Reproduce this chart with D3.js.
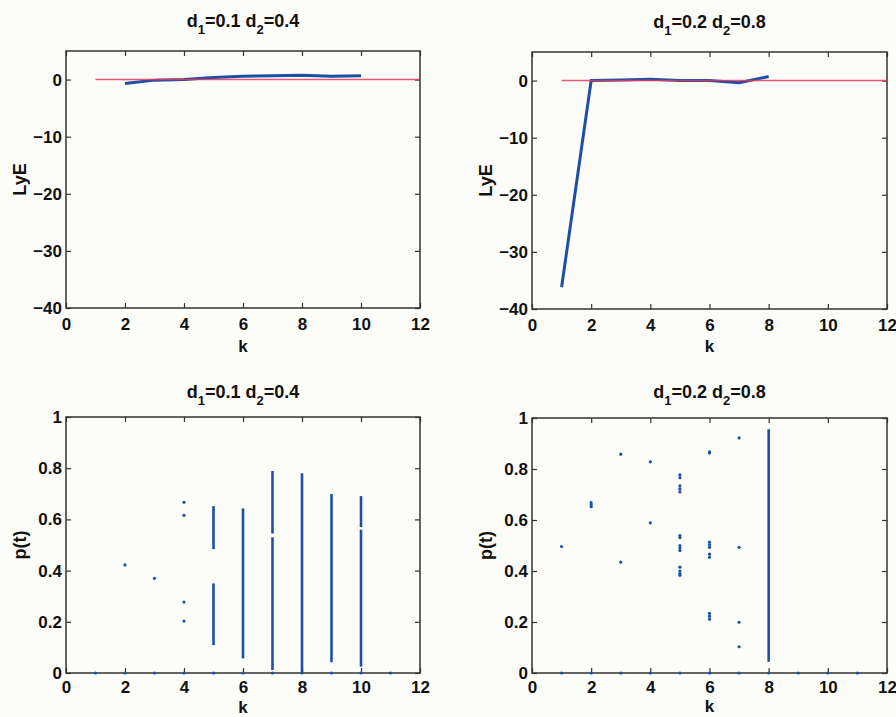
<!DOCTYPE html>
<html lang="en">
<head>
  <meta charset="UTF-8">
  <title>LyE and p(t)</title>
  <script src="https://cdn.jsdelivr.net/npm/d3@7"></script>
  <style>
    body { margin: 0; background: #fcfcf9; }
    text { font-family: "Liberation Sans", Arial, sans-serif; font-weight: bold; fill: #111; }
  </style>
</head>
<body>
  <script>
    // ---- data ----
    const xTicks = [0, 2, 4, 6, 8, 10, 12];
    const lyeTicks = [-40, -30, -20, -10, 0];
    const pTicks = [0, 0.2, 0.4, 0.6, 0.8, 1];

    // top row: Lyapunov exponent per k
    const lyeK_A = [2, 3, 4, 5, 6, 7, 8, 9, 10];
    const lyeV_A = [-0.7, -0.1, 0, 0.35, 0.6, 0.65, 0.75, 0.6, 0.65];
    const lyeK_B = [1, 2, 3, 4, 5, 6, 7, 8];
    const lyeV_B = [-36.2, 0, 0.1, 0.25, 0, 0, -0.4, 0.7];
    const zeroK = [1, 12];

    // bottom row: isolated points [k, p]
    const ptsA = [
      [1, 0], [2, 0], [3, 0], [4, 0], [5, 0], [6, 0], [7, 0], [8, 0], [9, 0], [10, 0], [11, 0],
      [2, 0.422], [3, 0.37],
      [4, 0.667], [4, 0.616], [4, 0.277], [4, 0.203]
    ];
    // dense columns of points, drawn as [k, pLow, pHigh]
    const colsA = [
      [5, 0.484, 0.652], [5, 0.109, 0.35],
      [6, 0.057, 0.643],
      [7, 0.012, 0.53], [7, 0.545, 0.789],
      [8, 0.0, 0.78],
      [9, 0.042, 0.699],
      [10, 0.025, 0.56], [10, 0.57, 0.691]
    ];
    const ptsB = [
      [1, 0], [2, 0], [3, 0], [4, 0], [5, 0], [6, 0], [7, 0], [8, 0], [9, 0], [10, 0], [11, 0],
      [1, 0.496],
      [2, 0.668], [2, 0.66], [2, 0.652],
      [3, 0.858], [3, 0.435],
      [4, 0.828], [4, 0.589],
      [5, 0.777], [5, 0.766], [5, 0.734], [5, 0.722], [5, 0.71],
      [5, 0.539], [5, 0.531], [5, 0.50], [5, 0.49], [5, 0.48],
      [5, 0.415], [5, 0.40], [5, 0.39], [5, 0.383],
      [6, 0.867], [6, 0.863], [6, 0.513], [6, 0.503], [6, 0.493], [6, 0.466], [6, 0.454],
      [6, 0.234], [6, 0.223], [6, 0.211],
      [7, 0.922], [7, 0.493], [7, 0.199], [7, 0.103]
    ];
    const colsB = [[8, 0.044, 0.956]];

    const blue = "#1d4fa6";
    const red = "#e5395a";

    const svg = d3.select("body").append("svg")
      .attr("width", 896)
      .attr("height", 717);

    function panel(left, top, w, h, yDomain, yTickVals, yFmt, title, titleGap, kGap, xPad, yLabel) {
      const g = svg.append("g").attr("transform", `translate(${left},${top})`);
      const x = d3.scaleLinear().domain([0, 12]).range([0, w]);
      const y = d3.scaleLinear().domain(yDomain).range([h, 0]);

      const style = a => {
        a.select(".domain").remove();
        a.selectAll(".tick line").attr("stroke", "#333").attr("stroke-width", 1.2);
        a.selectAll("text").style("font-size", "17px").attr("fill", "#111");
      };

      g.append("g").attr("transform", `translate(0,${h})`)
        .call(d3.axisBottom(x).tickValues(xTicks).tickSize(-5).tickPadding(xPad).tickFormat(d3.format("d")))
        .call(style);
      g.append("g")
        .call(d3.axisTop(x).tickValues(xTicks).tickSize(-5).tickFormat(""))
        .call(style);
      g.append("g")
        .call(d3.axisLeft(y).tickValues(yTickVals).tickSize(-5).tickPadding(4).tickFormat(yFmt))
        .call(style);
      g.append("g").attr("transform", `translate(${w},0)`)
        .call(d3.axisRight(y).tickValues(yTickVals).tickSize(-5).tickFormat(""))
        .call(style);

      g.append("rect")
        .attr("width", w).attr("height", h)
        .attr("fill", "none").attr("stroke", "#333").attr("stroke-width", 1.5);

      // title with subscripts
      const t = g.append("text")
        .attr("x", w / 2).attr("y", -titleGap)
        .attr("text-anchor", "middle")
        .style("font-size", "18px");
      t.append("tspan").text("d");
      t.append("tspan").attr("dy", 7).style("font-size", "13px").text("1");
      t.append("tspan").attr("dy", -7).text("=" + title[0] + " d");
      t.append("tspan").attr("dy", 7).style("font-size", "13px").text("2");
      t.append("tspan").attr("dy", -7).text("=" + title[1]);

      g.append("text")
        .attr("x", w / 2).attr("y", h + kGap)
        .attr("text-anchor", "middle")
        .style("font-size", "17px")
        .text("k");

      g.append("text")
        .attr("transform", `translate(${-40},${h / 2}) rotate(-90)`)
        .attr("text-anchor", "middle")
        .style("font-size", "18px")
        .text(yLabel);

      return { g, x, y };
    }

    const lyeFmt = d => d === 0 ? "0" : "\u2212" + Math.abs(d);
    const pFmt = d => String(+d.toFixed(1));

    const tl = panel(66, 51, 354, 257, [-40, 5], lyeTicks, lyeFmt, ["0.1", "0.4"], 24, 44, 10, "LyE");
    const tr = panel(532, 52, 355, 257, [-40, 5], lyeTicks, lyeFmt, ["0.2", "0.8"], 24, 43, 10, "LyE");
    const bl = panel(66, 417, 354, 256, [0, 1], pTicks, pFmt, ["0.1", "0.4"], 19, 40, 8, "p(t)");
    const br = panel(532, 418, 355, 255, [0, 1], pTicks, pFmt, ["0.2", "0.8"], 20, 39, 8, "p(t)");

    function lyeLines(p, ks, vs) {
      const line = d3.line().x(d => p.x(d[0])).y(d => p.y(d[1]));
      p.g.append("path")
        .datum(d3.zip(ks, vs))
        .attr("d", line)
        .attr("fill", "none")
        .attr("stroke", blue)
        .attr("stroke-width", 3);
      p.g.append("path")
        .datum(zeroK.map(k => [k, 0]))
        .attr("d", line)
        .attr("fill", "none")
        .attr("stroke", red)
        .attr("stroke-opacity", 0.85)
        .attr("stroke-width", 1.4);
    }
    lyeLines(tl, lyeK_A, lyeV_A);
    lyeLines(tr, lyeK_B, lyeV_B);

    function scatter(p, pts, cols) {
      p.g.selectAll("line.col")
        .data(cols)
        .enter().append("line")
        .attr("class", "col")
        .attr("x1", d => p.x(d[0])).attr("x2", d => p.x(d[0]))
        .attr("y1", d => p.y(d[1])).attr("y2", d => p.y(d[2]))
        .attr("stroke", blue)
        .attr("stroke-width", 2.6);
      p.g.selectAll("circle")
        .data(pts)
        .enter().append("circle")
        .attr("cx", d => p.x(d[0]))
        .attr("cy", d => p.y(d[1]))
        .attr("r", 1.6)
        .attr("fill", blue);
    }
    scatter(bl, ptsA, colsA);
    scatter(br, ptsB, colsB);
  </script>
</body>
</html>
